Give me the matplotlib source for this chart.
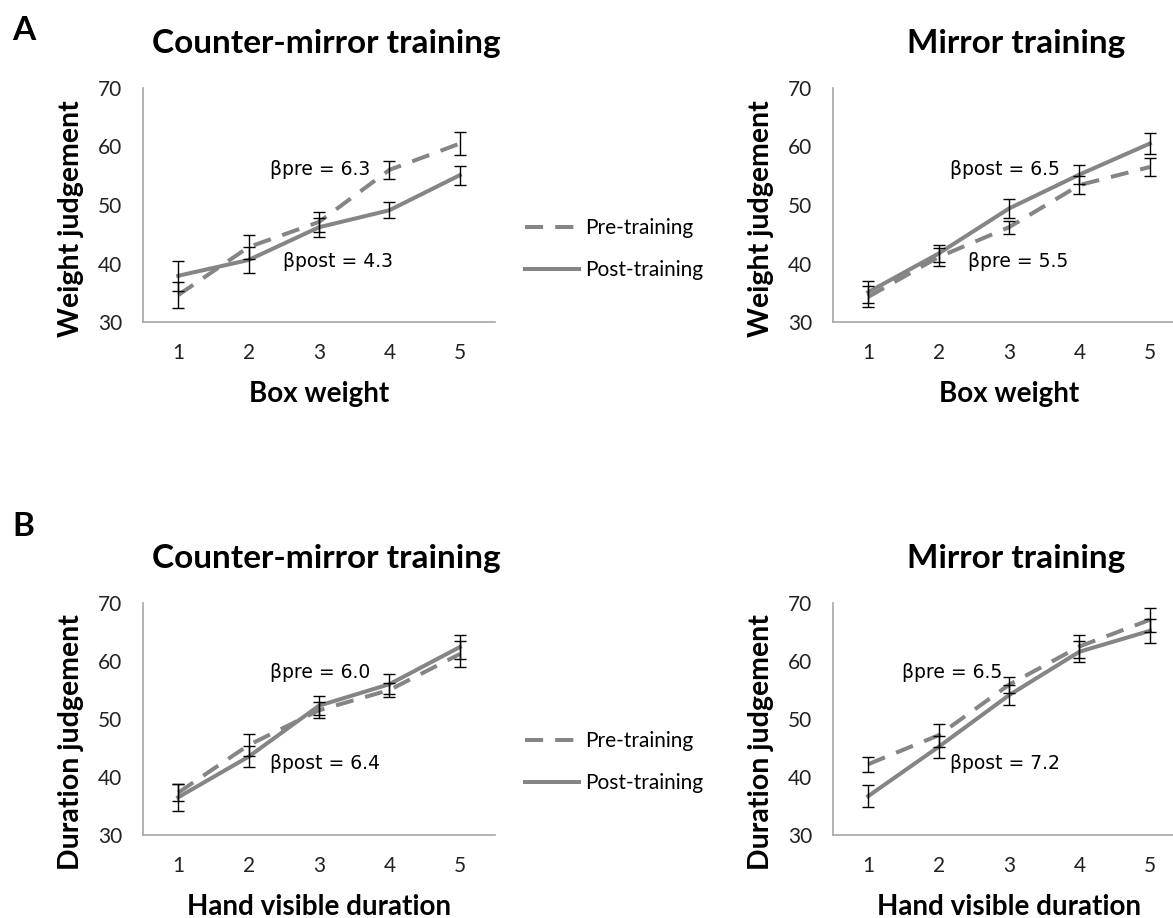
import numpy as np
import matplotlib.pyplot as plt

x = [1, 2, 3, 4, 5]

# panel A, counter-mirror
a1_pre = [34.6, 42.8, 47.1, 56.0, 60.5]
a1_pre_err = [2.2, 2.1, 1.7, 1.5, 1.9]
a1_post = [37.9, 40.6, 46.2, 49.1, 55.1]
a1_post_err = [2.6, 2.2, 1.6, 1.4, 1.65]
# panel A, mirror
a2_pre = [34.3, 41.1, 46.2, 53.4, 56.5]
a2_pre_err = [1.8, 1.5, 1.1, 1.6, 1.5]
a2_post = [35.1, 41.7, 49.4, 55.2, 60.5]
a2_post_err = [1.85, 1.5, 1.7, 1.65, 1.8]
# panel B, counter-mirror
b1_pre = [37.3, 45.5, 51.5, 55.0, 61.2]
b1_pre_err = [1.5, 1.9, 1.4, 1.2, 2.2]
b1_post = [36.5, 43.5, 52.3, 56.0, 62.4]
b1_post_err = [2.3, 1.8, 1.6, 1.7, 2.1]
# panel B, mirror
b2_pre = [42.2, 47.2, 55.9, 62.5, 67.1]
b2_pre_err = [1.3, 2.0, 1.4, 1.9, 2.1]
b2_post = [36.7, 45.2, 54.1, 61.6, 65.2]
b2_post_err = [1.9, 1.9, 1.7, 1.8, 2.1]

titles = ['Counter-mirror training', 'Mirror training']
ylab = ['Weight judgement', 'Duration judgement']
xlab = ['Box weight', 'Hand visible duration']

notes = [
    [('\u03b2pre = 6.3', 2.30, 56.0), ('\u03b2post = 4.3', 2.49, 40.3)],
    [('\u03b2post = 6.5', 2.16, 56.0), ('\u03b2pre = 5.5', 2.42, 40.4)],
    [('\u03b2pre = 6.0', 2.30, 58.1), ('\u03b2post = 6.4', 2.30, 42.4)],
    [('\u03b2pre = 6.5', 1.48, 58.1), ('\u03b2post = 7.2', 2.16, 42.4)],
]

data = [
    (a1_pre, a1_pre_err, a1_post, a1_post_err),
    (a2_pre, a2_pre_err, a2_post, a2_post_err),
    (b1_pre, b1_pre_err, b1_post, b1_post_err),
    (b2_pre, b2_pre_err, b2_post, b2_post_err),
]

W, H = 1173, 918
fig = plt.figure(figsize=(W / 100, H / 100), dpi=100)
font = 'Lato'
grey = '#858585'

boxes = [(143, 88, 322), (833, 88, 322), (143, 603, 835), (833, 603, 835)]
ylab_y = [0.44, 0.44, 0.40, 0.40]
for i, (left, top, bot) in enumerate(boxes):
    ax = fig.add_axes([left / W, 1 - bot / H, 352 / W, (bot - top) / H])
    pre, pre_e, post, post_e = data[i]
    ax.errorbar(x, pre, yerr=pre_e, fmt='none', ecolor='black', elinewidth=1,
                capsize=4, capthick=1, zorder=3)
    ax.errorbar(x, post, yerr=post_e, fmt='none', ecolor='black', elinewidth=1,
                capsize=4, capthick=1, zorder=3)
    l1, = ax.plot(x, pre, color=grey, lw=2.9, dashes=(4.5, 3), label='Pre-training', zorder=2)
    l2, = ax.plot(x, post, color=grey, lw=2.9, label='Post-training', zorder=2)
    ax.set_xlim(0.5, 5.5)
    ax.set_ylim(30, 70)
    ax.set_yticks([30, 40, 50, 60, 70])
    ax.set_xticks(x)
    for s in ['top', 'right']:
        ax.spines[s].set_visible(False)
    for s in ['left', 'bottom']:
        ax.spines[s].set_color('#a6a6a6')
        ax.spines[s].set_linewidth(1.2)
    ax.tick_params(length=0, labelsize=15, pad=15, colors='#222222')
    for t in ax.get_xticklabels() + ax.get_yticklabels():
        t.set_family(font)
    ax.set_title(titles[i % 2], fontsize=24, fontweight='bold', family=font, pad=25, x=0.52)
    ax.set_ylabel(ylab[i // 2], fontsize=20.5, fontweight='bold', family=font, labelpad=10)
    ax.yaxis.label.set_y(ylab_y[i])
    ax.set_xlabel(xlab[i // 2], fontsize=20, fontweight='bold', family=font, labelpad=13)
    for txt, tx, ty in notes[i]:
        ax.text(tx, ty, txt, fontsize=13.5, va='center', ha='left', family='DejaVu Sans')
    if i % 2 == 0:
        fig.legend(handles=[l1, l2], loc='center', bbox_to_anchor=(614 / W, 1 - (bot - 73) / H),
                   frameon=False, prop={'family': font, 'size': 15}, handlelength=2.6,
                   handletextpad=0.25, labelspacing=1.05)

fig.text(12 / W, 1 - 30 / H, 'A', fontsize=24, fontweight='bold', family=font, va='center')
fig.text(12 / W, 1 - 527 / H, 'B', fontsize=24, fontweight='bold', family=font, va='center')

fig.savefig('out.png', dpi=100)
